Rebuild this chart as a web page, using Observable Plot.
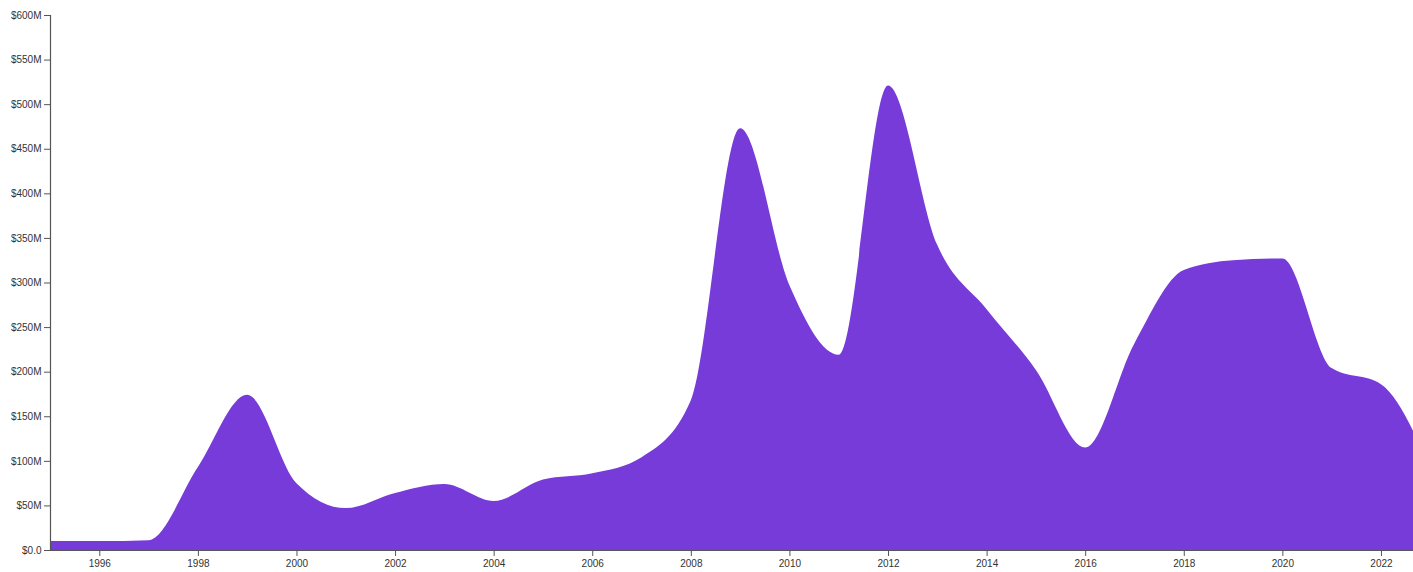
<!DOCTYPE html>
<html>
<head>
<meta charset="utf-8">
<script src="https://cdn.jsdelivr.net/npm/d3@7"></script>
<script src="https://cdn.jsdelivr.net/npm/@observablehq/plot@0.6"></script>
<style>
  html, body { margin: 0; padding: 0; background: #fff; }
</style>
</head>
<body>
<div id="chart"></div>
<script>
// Years and values (in millions of dollars)
const years = [1995, 1996, 1997, 1998, 1999, 2000, 2001, 2002, 2003, 2004, 2005, 2006, 2007, 2008, 2009,
               2010, 2011, 2012, 2013, 2014, 2015, 2016, 2017, 2018, 2019, 2020, 2021, 2022, 2023];
const values = [10, 10, 11, 93, 174, 75, 47, 64, 74, 55, 79, 86, 104, 168, 473,
                297, 219, 521, 342, 270, 202, 115, 232, 314, 325, 327, 204, 186, 92];
const xTicks = [1996, 1998, 2000, 2002, 2004, 2006, 2008, 2010, 2012, 2014, 2016, 2018, 2020, 2022];
const yTicks = [0, 50, 100, 150, 200, 250, 300, 350, 400, 450, 500, 550, 600];
const yTickLabels = ["$0.0", "$50M", "$100M", "$150M", "$200M", "$250M", "$300M", "$350M", "$400M", "$450M", "$500M", "$550M", "$600M"];

const data = years.map((year, i) => ({year, value: values[i]}));
const xDomain = [1995, 2022.65];

const chart = Plot.plot({
  width: 1413,
  height: 572,
  marginLeft: 50,
  marginRight: 0,
  marginTop: 15,
  marginBottom: 22,
  style: {fontFamily: "'Liberation Sans', Arial, sans-serif", fontSize: "10px", color: "#333", background: "#fff"},
  x: {domain: xDomain, label: null},
  y: {domain: [0, 600], label: null},
  marks: [
    Plot.areaY(data, {x: "year", y: "value", curve: "monotone-x", fill: "#773bd9", clip: true}),
    Plot.ruleY([0], {stroke: "#555", strokeWidth: 1.2}),
    Plot.ruleX([xDomain[0]], {stroke: "#555", strokeWidth: 1.2}),
    Plot.axisX({ticks: xTicks, tickFormat: d => String(d), tickSize: 6, tickPadding: 3, label: null, stroke: "#555"}),
    Plot.axisY({ticks: yTicks, tickFormat: d => yTickLabels[yTicks.indexOf(d)], tickSize: 6, tickPadding: 3, label: null, stroke: "#555"})
  ]
});
document.getElementById("chart").appendChild(chart);
</script>
</body>
</html>
